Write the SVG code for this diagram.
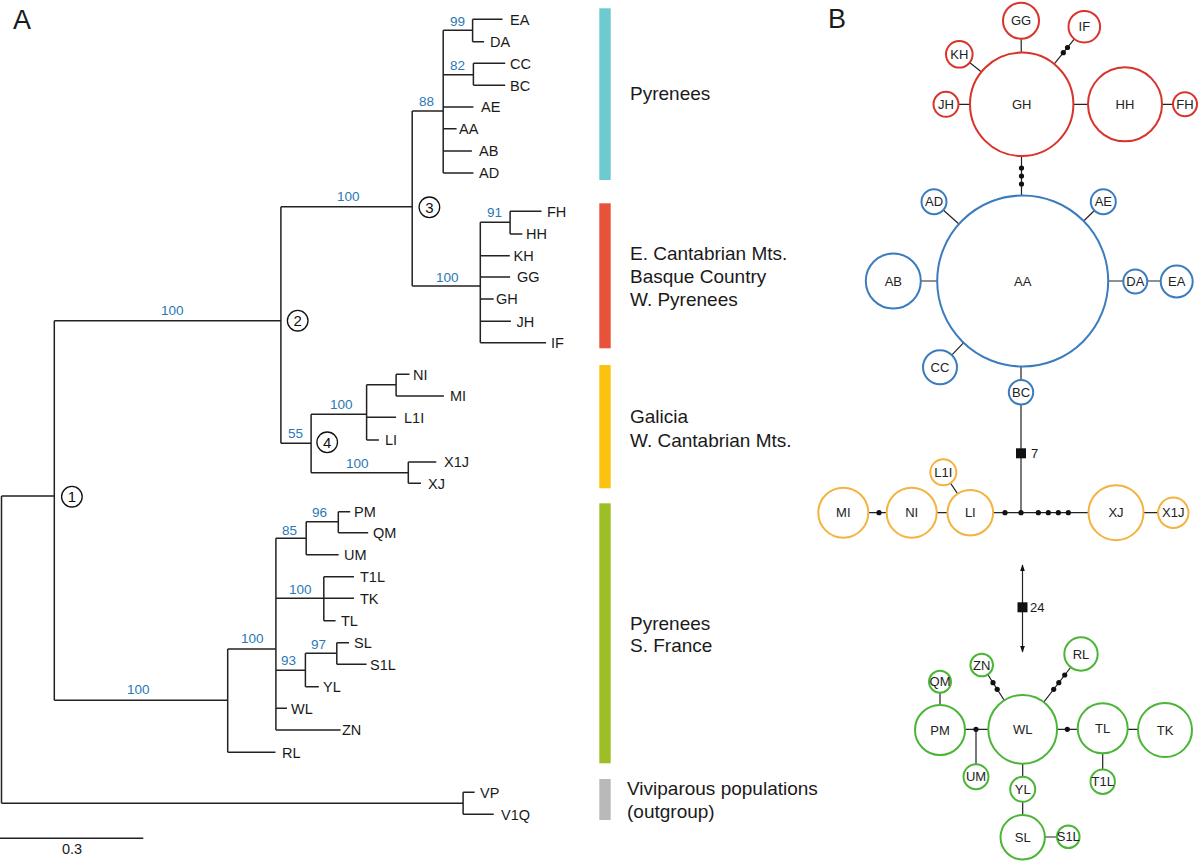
<svg xmlns="http://www.w3.org/2000/svg" width="1200" height="862" viewBox="0 0 1200 862">
<defs>
<style>
.t{font-family:"Liberation Sans",Arial,sans-serif;fill:#1a1a1a}
.leaf{font-size:14.5px}
.bs{font-family:"Liberation Sans",Arial,sans-serif;font-size:13.5px;fill:#2b78b5}
.reg{font-family:"Liberation Sans",Arial,sans-serif;font-size:19px;fill:#1a1a1a}
.br{stroke:#222;stroke-width:1.5;fill:none}
.cn{fill:#fff;stroke:#111;stroke-width:1.3}
.cnum{font-family:"Liberation Sans",Arial,sans-serif;font-size:15px;fill:#111;text-anchor:middle}
.ed{stroke:#222;stroke-width:1.2;fill:none}
.dot{fill:#111}
.hl{font-family:"Liberation Sans",Arial,sans-serif;font-size:13px;fill:#222;text-anchor:middle}
.r{fill:#fff;stroke:#d8342b;stroke-width:2}
.b{fill:#fff;stroke:#3b7cbf;stroke-width:2}
.y{fill:#fff;stroke:#f3b340;stroke-width:2}
.g{fill:#fff;stroke:#4bb536;stroke-width:2}
</style>
<marker id="ah" viewBox="0 0 10 10" refX="9" refY="5" markerWidth="7" markerHeight="10" orient="auto-start-reverse" markerUnits="userSpaceOnUse">
<path d="M0,1.5 L10,5 L0,8.5 z" fill="#111"/>
</marker>
</defs>
<rect width="1200" height="862" fill="#fff"/>

<text class="t" x="13" y="29" font-size="27">A</text>
<text class="t" x="828" y="28" font-size="27">B</text>

<!-- tree branches -->
<g id="tree-branches">
<path class="br" d="M1.5,496 V803.3 M1.5,496 H54.3 M1.5,803.3 H463.1
M54.3,320.7 V700.3 M54.3,320.7 H280.9 M280.9,206.7 V443.3
M280.9,206.7 H412.2 M412.2,111 V286
M412.2,111 H443.2 M443.2,30.3 V173
M443.2,30.3 H472.6 M472.6,19.3 V41.7 M472.6,19.3 H502.5 M472.6,41.7 H484.1
M443.2,74.7 H473.4 M473.4,63.3 V85.3 M473.4,63.3 H505.2 M473.4,85.3 H505.2
M443.2,107 H473.4 M443.2,128.7 H456.6 M443.2,151 H471.9 M443.2,173 H473.4
M412.2,286 H480.3 M480.3,222.3 V342.7
M480.3,222.3 H510.1 M510.1,211.3 V234 M510.1,211.3 H541.5 M510.1,234 H522.4
M480.3,255.7 H509.8 M480.3,277 H510.1 M480.3,299 H493.7 M480.3,321.3 H510.9 M480.3,342.7 H546.1
M280.9,443.3 H311.1 M311.1,414.3 V472.7
M311.1,414.3 H366.6 M366.6,384.7 V440
M366.6,384.7 H396.1 M396.1,374.3 V396 M396.1,374.3 H409.5 M396.1,396 H443.9
M366.6,417.3 H396.1 M366.6,440 H378.9
M311.1,472.7 H408.3 M408.3,462 V483.3 M408.3,462 H436.3 M408.3,483.3 H421
M54.3,700.3 H227.7 M227.7,649 V752.3
M227.7,649 H275.9 M227.7,752.3 H275.5
M275.9,538.3 V730
M275.9,538.3 H306.2 M306.2,521.7 V554.7
M306.2,521.7 H338.3 M338.3,511.7 V532.7 M338.3,511.7 H350.2 M338.3,532.7 H368.2
M306.2,554.7 H338.7
M275.9,598.3 H323.8 M323.8,576.7 V620.7 M323.8,576.7 H354 M323.8,598.3 H354 M323.8,620.7 H335.6
M275.9,670.3 H305.4 M305.4,653.3 V686.7
M305.4,653.3 H336.8 M336.8,642.7 V664.3 M336.8,642.7 H349 M336.8,664.3 H366.6
M305.4,686.7 H318.8
M275.9,708.3 H287 M275.9,730 H340.6
M463.1,792.3 V814.3 M463.1,792.3 H474.6 M463.1,814.3 H493.7
M0,838.3 H143.3"/>
</g>

<!-- leaf labels -->
<g id="tree-leaves" class="t leaf">
<text x="510" y="24.5">EA</text>
<text x="490" y="47">DA</text>
<text x="510" y="68.5">CC</text>
<text x="510" y="90.5">BC</text>
<text x="481" y="112">AE</text>
<text x="459" y="134">AA</text>
<text x="479" y="156">AB</text>
<text x="479" y="178">AD</text>
<text x="547" y="216.5">FH</text>
<text x="526" y="239">HH</text>
<text x="513.5" y="261">KH</text>
<text x="517" y="282">GG</text>
<text x="496" y="304">GH</text>
<text x="516.5" y="326.5">JH</text>
<text x="551" y="348">IF</text>
<text x="413" y="379.5">NI</text>
<text x="450" y="401">MI</text>
<text x="404" y="422.5">L1I</text>
<text x="385" y="445">LI</text>
<text x="444" y="467">X1J</text>
<text x="428" y="488.5">XJ</text>
<text x="354" y="517">PM</text>
<text x="373" y="538">QM</text>
<text x="344" y="560">UM</text>
<text x="360" y="582">T1L</text>
<text x="360" y="603.5">TK</text>
<text x="341" y="626">TL</text>
<text x="354" y="648">SL</text>
<text x="370" y="669.5">S1L</text>
<text x="323" y="692">YL</text>
<text x="291" y="713.5">WL</text>
<text x="342" y="735">ZN</text>
<text x="282" y="757.5">RL</text>
<text x="480" y="797.5">VP</text>
<text x="501" y="819.5">V1Q</text>
<text x="62" y="853.5">0.3</text>
</g>

<!-- bootstrap support -->
<g id="tree-support" class="bs">
<text x="450" y="26">99</text>
<text x="450" y="70">82</text>
<text x="419" y="106">88</text>
<text x="337" y="201">100</text>
<text x="487" y="217">91</text>
<text x="436" y="281.5">100</text>
<text x="161" y="315">100</text>
<text x="288" y="438">55</text>
<text x="330" y="408.5">100</text>
<text x="346" y="467.5">100</text>
<text x="127" y="693.5">100</text>
<text x="241" y="643">100</text>
<text x="282" y="535">85</text>
<text x="312" y="516.5">96</text>
<text x="289" y="594">100</text>
<text x="281" y="665">93</text>
<text x="311" y="649">97</text>
</g>

<!-- numbered nodes -->
<g id="node-1"><circle class="cn" cx="71.9" cy="496.7" r="10.3"/><text class="cnum" x="71.9" y="502">1</text></g>
<g id="node-2"><circle class="cn" cx="297.7" cy="320.7" r="10.3"/><text class="cnum" x="297.7" y="326">2</text></g>
<g id="node-3"><circle class="cn" cx="429.4" cy="207.3" r="10.3"/><text class="cnum" x="429.4" y="212.6">3</text></g>
<g id="node-4"><circle class="cn" cx="327.2" cy="442.3" r="10.3"/><text class="cnum" x="327.2" y="447.6">4</text></g>

<!-- region bars -->
<g id="regions">
<rect x="599.3" y="8.3" width="11.4" height="171.7" fill="#6ccad0"/>
<rect x="599.3" y="203.3" width="11.4" height="145" fill="#e9523a"/>
<rect x="599.3" y="365" width="11.4" height="123.3" fill="#fbc20f"/>
<rect x="599.3" y="503.3" width="11.4" height="260" fill="#9dbf25"/>
<rect x="599.3" y="779" width="11.4" height="41" fill="#b9b9b9"/>
<text class="reg" x="630" y="99.5">Pyrenees</text>
<text class="reg" x="630" y="259.5">E. Cantabrian Mts.</text>
<text class="reg" x="630" y="283">Basque Country</text>
<text class="reg" x="630" y="306">W. Pyrenees</text>
<text class="reg" x="630" y="422.5">Galicia</text>
<text class="reg" x="630" y="446.5">W. Cantabrian Mts.</text>
<text class="reg" x="630" y="629.5">Pyrenees</text>
<text class="reg" x="630" y="652">S. France</text>
<text class="reg" x="627" y="795">Viviparous populations</text>
<text class="reg" x="627" y="817.5">(outgroup)</text>
</g>

<!-- network connectors -->
<g id="connectors">
<path class="ed" d="M1021,21 L1021.7,104.3 M1084.3,26.7 L1021.7,104.3 M959.3,54.3 L1021.7,104.3 M946,104.3 H1185
M1021.5,104.3 V281
M934,201.7 L1022.7,281 M1103.3,201.7 L1022.7,281 M893.3,281 H1176.7 M940,367.3 L1022.7,281
M1021,281 V512.7 M843.3,512.7 H1173.3 M943.3,472.3 L970.3,512.7
M940,681.7 V730 M940,729.3 H1165 M976,729.3 V776.7
M981.7,665 L1022.7,729.3 M1081,654 L1022.7,729.3
M1102.7,728.3 V781.7 M1022.7,729.3 V837.3 M1022.7,837 H1068.3"/>
<line class="ed" x1="1022.5" y1="565" x2="1022.5" y2="652" marker-start="url(#ah)" marker-end="url(#ah)"/>
<g class="dot">
<circle cx="1063.3" cy="52.7" r="2.6"/><circle cx="1067.5" cy="47.5" r="2.6"/>
<circle cx="1021.5" cy="168" r="2.6"/><circle cx="1021.5" cy="176" r="2.6"/><circle cx="1021.5" cy="184" r="2.6"/>
<circle cx="879" cy="512.7" r="2.6"/><circle cx="1005" cy="512.7" r="2.6"/><circle cx="1021" cy="512.7" r="2.6"/>
<circle cx="1038.3" cy="512.7" r="2.6"/><circle cx="1048.3" cy="512.7" r="2.6"/><circle cx="1058.3" cy="512.7" r="2.6"/><circle cx="1068.3" cy="512.7" r="2.6"/>
<circle cx="976" cy="729.3" r="2.6"/><circle cx="1067.3" cy="729.3" r="2.6"/>
<circle cx="993" cy="682.7" r="2.6"/><circle cx="997.2" cy="689.3" r="2.6"/>
<circle cx="1053.7" cy="689.3" r="2.6"/><circle cx="1058.8" cy="682.7" r="2.6"/><circle cx="1064.7" cy="675" r="2.6"/>
<rect x="1016" y="448.3" width="10" height="10"/>
<rect x="1017.5" y="602.3" width="10" height="10"/>
</g>
<text class="t" x="1031" y="458" font-size="13">7</text>
<text class="t" x="1030" y="612" font-size="13">24</text>
</g>

<!-- red haplogroup -->
<g id="h-GH"><circle class="r" cx="1021.7" cy="104.3" r="51.7"/><text class="hl" x="1021.7" y="108.8">GH</text></g>
<g id="h-GG"><circle class="r" cx="1021" cy="20.7" r="18"/><text class="hl" x="1021" y="25.2">GG</text></g>
<g id="h-IF"><circle class="r" cx="1084.3" cy="26.7" r="15.8"/><text class="hl" x="1084.3" y="31.2">IF</text></g>
<g id="h-KH"><circle class="r" cx="959.3" cy="54.3" r="13.3"/><text class="hl" x="959.3" y="58.8">KH</text></g>
<g id="h-JH"><circle class="r" cx="946" cy="104.3" r="12.5"/><text class="hl" x="946" y="108.8">JH</text></g>
<g id="h-HH"><circle class="r" cx="1125" cy="104.3" r="37"/><text class="hl" x="1125" y="108.8">HH</text></g>
<g id="h-FH"><circle class="r" cx="1185" cy="104.3" r="12"/><text class="hl" x="1185" y="108.8">FH</text></g>

<!-- blue haplogroup -->
<g id="h-AA"><circle class="b" cx="1022.7" cy="281" r="85.5"/><text class="hl" x="1022.7" y="285.5">AA</text></g>
<g id="h-AD"><circle class="b" cx="934" cy="201.7" r="12.5"/><text class="hl" x="934" y="206.2">AD</text></g>
<g id="h-AE"><circle class="b" cx="1103.3" cy="201.7" r="12.5"/><text class="hl" x="1103.3" y="206.2">AE</text></g>
<g id="h-AB"><circle class="b" cx="893.3" cy="281" r="27.5"/><text class="hl" x="893.3" y="285.5">AB</text></g>
<g id="h-DA"><circle class="b" cx="1135.3" cy="281.5" r="12"/><text class="hl" x="1135.3" y="286">DA</text></g>
<g id="h-EA"><circle class="b" cx="1176.7" cy="281.5" r="16"/><text class="hl" x="1176.7" y="286">EA</text></g>
<g id="h-CC"><circle class="b" cx="940" cy="367.3" r="17"/><text class="hl" x="940" y="371.8">CC</text></g>
<g id="h-BC"><circle class="b" cx="1021" cy="392.3" r="12.2"/><text class="hl" x="1021" y="396.8">BC</text></g>

<!-- orange haplogroup -->
<g id="h-MI"><circle class="y" cx="843.3" cy="512.7" r="25"/><text class="hl" x="843.3" y="517.2">MI</text></g>
<g id="h-NI"><circle class="y" cx="911.7" cy="512.7" r="25"/><text class="hl" x="911.7" y="517.2">NI</text></g>
<g id="h-LI"><circle class="y" cx="970.3" cy="512.7" r="22.8"/><text class="hl" x="970.3" y="517.2">LI</text></g>
<g id="h-L1I"><circle class="y" cx="943.3" cy="472.3" r="13"/><text class="hl" x="943.3" y="476.8">L1I</text></g>
<g id="h-XJ"><circle class="y" cx="1116" cy="512.7" r="27.5"/><text class="hl" x="1116" y="517.2">XJ</text></g>
<g id="h-X1J"><circle class="y" cx="1173.3" cy="512.7" r="15.2"/><text class="hl" x="1173.3" y="517.2">X1J</text></g>

<!-- green haplogroup -->
<g id="h-WL"><circle class="g" cx="1022.7" cy="729.3" r="34.4"/><text class="hl" x="1022.7" y="733.8">WL</text></g>
<g id="h-PM"><circle class="g" cx="940" cy="730" r="25"/><text class="hl" x="940" y="734.5">PM</text></g>
<g id="h-QM"><circle class="g" cx="940" cy="681.7" r="11"/><text class="hl" x="940" y="686.2">QM</text></g>
<g id="h-UM"><circle class="g" cx="976" cy="776.7" r="12.5"/><text class="hl" x="976" y="781.2">UM</text></g>
<g id="h-ZN"><circle class="g" cx="981.7" cy="665" r="11.3"/><text class="hl" x="981.7" y="669.5">ZN</text></g>
<g id="h-RL"><circle class="g" cx="1081" cy="654" r="16.7"/><text class="hl" x="1081" y="658.5">RL</text></g>
<g id="h-TL"><circle class="g" cx="1102.7" cy="728.3" r="25"/><text class="hl" x="1102.7" y="732.8">TL</text></g>
<g id="h-TK"><circle class="g" cx="1165" cy="730" r="27"/><text class="hl" x="1165" y="734.5">TK</text></g>
<g id="h-T1L"><circle class="g" cx="1102.7" cy="781.7" r="12.2"/><text class="hl" x="1102.7" y="786.2">T1L</text></g>
<g id="h-YL"><circle class="g" cx="1022.7" cy="789.3" r="12.5"/><text class="hl" x="1022.7" y="793.8">YL</text></g>
<g id="h-SL"><circle class="g" cx="1022.7" cy="837.3" r="22.2"/><text class="hl" x="1022.7" y="841.8">SL</text></g>
<g id="h-S1L"><circle class="g" cx="1068.3" cy="836.7" r="11.3"/><text class="hl" x="1068.3" y="841.2">S1L</text></g>
</svg>
